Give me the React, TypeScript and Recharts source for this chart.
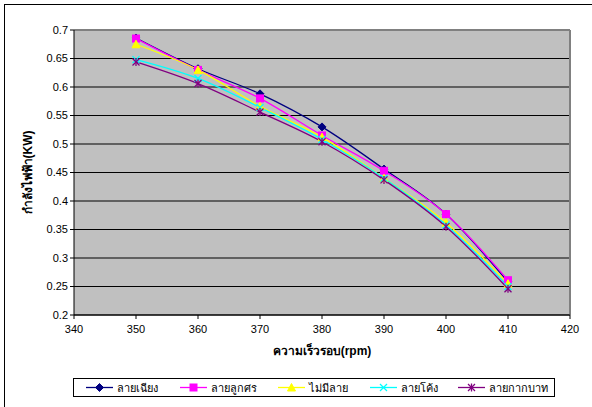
import React from "react";
import { LineChart, Line, XAxis, YAxis, CartesianGrid, Label, ReferenceLine } from "recharts";

const speeds = [350, 360, 370, 380, 390, 400, 410];
const diagonal = [0.686, 0.632, 0.588, 0.530, 0.456, 0.377, 0.258];
const arrow = [0.685, 0.630, 0.580, 0.515, 0.453, 0.377, 0.261];
const plain = [0.675, 0.630, 0.566, 0.512, 0.440, 0.362, 0.255];
const curve = [0.648, 0.615, 0.564, 0.508, 0.440, 0.358, 0.250];
const cross = [0.644, 0.606, 0.556, 0.504, 0.437, 0.355, 0.246];

const xTicks = [340, 350, 360, 370, 380, 390, 400, 410, 420];
const yTicks = [0.2, 0.25, 0.3, 0.35, 0.4, 0.45, 0.5, 0.55, 0.6, 0.65, 0.7];

const seriesNames = ["ลายเฉียง", "ลายลูกศร", "ไม่มีลาย", "ลายโค้ง", "ลายกากบาท"];
const seriesKeys = ["diagonal", "arrow", "plain", "curve", "cross"];
const seriesColors = ["#000080", "#FF00FF", "#FFFF00", "#00FFFF", "#800080"];
const seriesShapes = ["diamond", "square", "triangle", "x", "star"];
const xTitle = "ความเร็วรอบ(rpm)";
const yTitle = "กำลังไฟฟ้า(KW)";

const data = speeds.map((s, i) => ({
  speed: s,
  diagonal: diagonal[i],
  arrow: arrow[i],
  plain: plain[i],
  curve: curve[i],
  cross: cross[i],
}));

const FONT = "'Liberation Sans', Arial, sans-serif";

function Marker({ shape, color, cx, cy }: { shape: string; color: string; cx: number; cy: number }) {
  if (cx == null || cy == null) return null;
  switch (shape) {
    case "diamond":
      return <polygon points={`${cx},${cy - 4} ${cx + 4},${cy} ${cx},${cy + 4} ${cx - 4},${cy}`} fill={color} stroke={color} />;
    case "square":
      return <rect x={cx - 3.5} y={cy - 3.5} width={7} height={7} fill={color} stroke={color} />;
    case "triangle":
      return <polygon points={`${cx},${cy - 4} ${cx + 4},${cy + 3.5} ${cx - 4},${cy + 3.5}`} fill={color} stroke={color} />;
    case "x":
      return (
        <g stroke={color} strokeWidth={1.3}>
          <line x1={cx - 3.5} y1={cy - 3.5} x2={cx + 3.5} y2={cy + 3.5} />
          <line x1={cx - 3.5} y1={cy + 3.5} x2={cx + 3.5} y2={cy - 3.5} />
        </g>
      );
    case "star":
      return (
        <g stroke={color} strokeWidth={1.3}>
          <line x1={cx - 3.5} y1={cy - 3.5} x2={cx + 3.5} y2={cy + 3.5} />
          <line x1={cx - 3.5} y1={cy + 3.5} x2={cx + 3.5} y2={cy - 3.5} />
          <line x1={cx} y1={cy - 4} x2={cx} y2={cy + 4} />
        </g>
      );
    default:
      return null;
  }
}

const legendLeft = [86, 180, 278, 370, 458];

export default function App() {
  return (
    <div style={{ position: "absolute", left: 0, top: 0, width: 592, height: 407, overflow: "hidden", background: "#fff" }}>
      <div style={{ position: "absolute", left: 4, top: 4, width: 600, height: 410, border: "1px solid #000", boxSizing: "border-box" }} />
      <div style={{ position: "absolute", left: 0, top: 0 }}>
        <LineChart width={592} height={407} data={data} margin={{ top: 30, right: 22, left: 0, bottom: 52 }}>
          <CartesianGrid horizontal={true} vertical={false} stroke="#000" fill="#C0C0C0" strokeOpacity={1} />
          <ReferenceLine y={0.7} stroke="#808080" strokeWidth={2} ifOverflow="visible" />
          <ReferenceLine x={420} stroke="#808080" strokeWidth={2} ifOverflow="visible" />
          <XAxis
            dataKey="speed"
            type="number"
            domain={[340, 420]}
            ticks={xTicks}
            height={40}
            stroke="#000"
            tickSize={4}
            tick={{ fill: "#000", fontSize: 11, fontFamily: FONT }}
            tickMargin={6}
          >
            <Label value={xTitle} position="insideBottom" offset={0} style={{ fontWeight: "bold", fontSize: 12, fontFamily: FONT, fill: "#000" }} />
          </XAxis>
          <YAxis
            type="number"
            domain={[0.2, 0.7]}
            ticks={yTicks}
            width={74}
            stroke="#000"
            tickSize={4}
            interval={0}
            tick={{ fill: "#000", fontSize: 11, fontFamily: FONT }}
            tickFormatter={(v: number) => String(Math.round(v * 100) / 100)}
          >
            <Label value={yTitle} angle={-90} position="insideLeft" offset={28} style={{ fontWeight: "bold", fontSize: 12, fontFamily: FONT, fill: "#000", textAnchor: "middle" }} />
          </YAxis>
          {seriesKeys.map((k, i) => (
            <Line
              key={k}
              type="monotone"
              dataKey={k}
              name={seriesNames[i]}
              stroke={seriesColors[i]}
              strokeWidth={1.3}
              isAnimationActive={false}
              dot={(p: any) => <Marker key={`${k}-${p.index}`} shape={seriesShapes[i]} color={seriesColors[i]} cx={p.cx} cy={p.cy} />}
              activeDot={false}
            />
          ))}
        </LineChart>
      </div>
      <div style={{ position: "absolute", left: 73, top: 378, width: 482, height: 19, border: "1px solid #000", boxSizing: "border-box", background: "#fff" }} />
      {seriesNames.map((n, i) => (
        <div key={n} style={{ position: "absolute", left: legendLeft[i], top: 380, height: 15, display: "flex", alignItems: "center", fontFamily: FONT, fontSize: 11, whiteSpace: "nowrap" }}>
          <svg width={28} height={15} style={{ display: "block" }}>
            <line x1={0} y1={7.5} x2={27} y2={7.5} stroke={seriesColors[i]} strokeWidth={1.3} />
            <Marker shape={seriesShapes[i]} color={seriesColors[i]} cx={13.5} cy={7.5} />
          </svg>
          <span style={{ marginLeft: 3 }}>{n}</span>
        </div>
      ))}
    </div>
  );
}
